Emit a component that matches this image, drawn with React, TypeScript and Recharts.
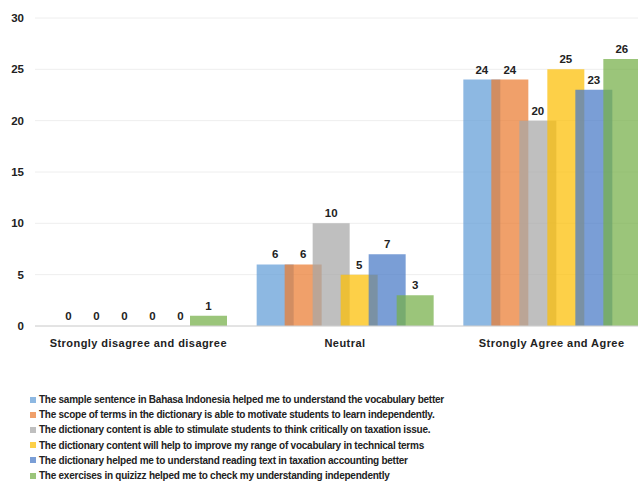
import { Bar, BarChart, CartesianGrid, LabelList, XAxis, YAxis } from 'recharts';

const categories = ['Strongly disagree and disagree', 'Neutral', 'Strongly Agree and Agree'];

const seriesNames = [
    'The sample sentence in Bahasa Indonesia helped me to understand the vocabulary better',
    'The scope of terms in the dictionary is able to motivate students to learn independently.',
    'The dictionary content is able to stimulate students to think critically on taxation issue.',
    'The dictionary content will help to improve my range of vocabulary in technical terms',
    'The dictionary helped me to understand reading text in taxation accounting better',
    'The exercises in quizizz helped me to check my understanding independently',
];

const sampleSentence = [0, 6, 24];
const scopeOfTerms = [0, 6, 24];
const criticalThinking = [0, 10, 20];
const vocabRange = [0, 5, 25];
const readingText = [0, 7, 23];
const quizizz = [1, 3, 26];

const yTicks = [0, 5, 10, 15, 20, 25, 30];

// bar fills are drawn at 0.73 opacity so overlaps darken like the original
const colors = ['#639ed7', '#ea7d33', '#a7a7a7', '#fcbf04', '#497ac7', '#76af49'];
// the same colours as they look on white, for the legend squares
const legendColors = ['#8db8e2', '#f0a06a', '#bfbfbf', '#fdd048', '#7a9ed6', '#9bc57a'];

const seriesValues = [sampleSentence, scopeOfTerms, criticalThinking, vocabRange, readingText, quizizz];

const data = categories.map((name, i) => {
    const row: { [key: string]: string | number } = { name };
    seriesValues.forEach((vals, s) => {
        row['s' + s] = vals[i];
    });
    return row;
});

const font = '"Liberation Sans", Arial, sans-serif';

const renderValue = (props: any) => {
    const { x, y, width, value } = props;
    return (
        <text
            x={Number(x) + Number(width) / 2}
            y={Number(y) - 6}
            textAnchor="middle"
            fill="#222"
            fontSize={11.5}
            fontWeight={700}
            fontFamily={font}
        >
            {value}
        </text>
    );
};

export default function App() {
    return (
        <div
            style={{
                position: 'absolute',
                left: 0,
                top: 0,
                width: 638,
                height: 483,
                overflow: 'hidden',
                background: '#fff',
                fontFamily: font,
            }}
        >
            <BarChart
                width={660}
                height={360}
                data={data}
                margin={{ top: 18, right: 5, left: 0, bottom: 0 }}
                barSize={37}
                barGap={-9}
            >
                <CartesianGrid vertical={false} stroke="#eeeeee"/>
                <XAxis
                    dataKey="name"
                    height={34}
                    tickLine={false}
                    axisLine={{ stroke: '#d0d0d0' }}
                    tickMargin={7}
                    tick={{ fill: '#222', fontSize: 11, fontWeight: 700, fontFamily: font, letterSpacing: 0.45 }}
                    interval={0}
                />
                <YAxis
                    width={35}
                    domain={[0, 30]}
                    ticks={yTicks}
                    tickLine={false}
                    axisLine={false}
                    tickMargin={5}
                    tick={{ fill: '#222', fontSize: 11.5, fontWeight: 700, fontFamily: font }}
                />
                {seriesNames.map((n, s) => (
                    <Bar
                        key={n}
                        dataKey={'s' + s}
                        name={n}
                        fill={colors[s]}
                        fillOpacity={0.73}
                        minPointSize={0.01}
                        isAnimationActive={false}
                    >
                        <LabelList dataKey={'s' + s} content={renderValue}/>
                    </Bar>
                ))}
            </BarChart>
            <div style={{ position: 'absolute', left: 30, top: 392 }}>
                {seriesNames.map((n, s) => (
                    <div
                        key={n}
                        style={{
                            display: 'flex',
                            alignItems: 'center',
                            height: 15.2,
                            fontSize: 10,
                            fontWeight: 700,
                            color: '#222',
                            whiteSpace: 'nowrap',
                            letterSpacing: -0.25,
                        }}
                    >
                        <span style={{ width: 6, height: 6, background: legendColors[s], marginRight: 3 }}/>
                        {n}
                    </div>
                ))}
            </div>
        </div>
    );
}
